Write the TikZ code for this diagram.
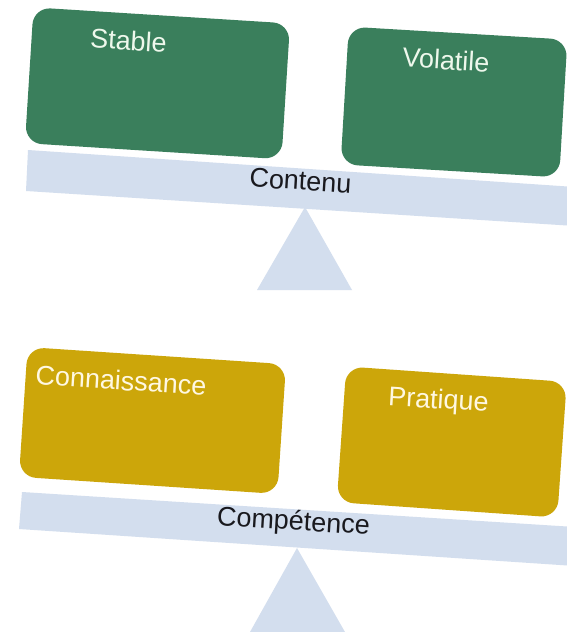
\documentclass[tikz,border=0pt]{standalone}
\usepackage{fontspec}
\setmainfont{Liberation Sans}
\definecolor{boxgreen}{RGB}{58,127,92}
\definecolor{boxgold}{RGB}{204,166,10}
\definecolor{beamblue}{RGB}{211,222,238}
\definecolor{lblgreen}{RGB}{238,248,236}
\definecolor{lblgold}{RGB}{255,248,226}
\definecolor{beamtext}{RGB}{25,25,30}
\begin{document}
\begin{tikzpicture}[x=1pt,y=-1pt,
  box/.style={fill=#1, draw=none, rounded corners=17pt, inner sep=0pt},
  lab/.style={text=#1, font=\fontsize{27}{32}\selectfont, inner sep=0pt, anchor=base, rotate=-3.5},
  beam/.style={fill=beamblue},
  pivot/.style={fill=beamblue}]
\useasboundingbox (0,0) rectangle (567,632);
\fill[white] (0,0) rectangle (567,632);
\clip (0,0) rectangle (567,632);

% ---------- top balance: Contenu ----------
\fill[pivot] (305,207) -- (352,290) -- (257,290) -- cycle;
\fill[beam] (28,150) -- (575,187) -- (575,226) -- (26,191) -- cycle;
\node[box=boxgreen, minimum width=257pt, minimum height=136pt, rotate=-3.6] (stable) at (157.5,83.3) {};
\node[box=boxgreen, minimum width=219pt, minimum height=138pt, rotate=-3.4] (volatile) at (454,102) {};
\node[lab=lblgreen] (tstable) at (128,50) {Stable};
\node[lab=lblgreen] (tvolatile) at (445.5,69.5) {Volatile};
\node[lab=beamtext] (tcontenu) at (300,190) {Contenu};

% ---------- bottom balance: Compétence ----------
\fill[pivot] (297,548) -- (345,632) -- (250,632) -- cycle;
\fill[beam] (22,492) -- (575,527) -- (575,566) -- (19,529) -- cycle;
\node[box=boxgold, minimum width=259pt, minimum height=130pt, rotate=-3.8] (connaissance) at (152.5,420.5) {};
\node[box=boxgold, minimum width=221pt, minimum height=136pt, rotate=-4] (pratique) at (451.75,442) {};
\node[lab=lblgold] (tconnaissance) at (120.5,390) {Connaissance};
\node[lab=lblgold] (tpratique) at (438,408.5) {Pratique};
\node[lab=beamtext] (tcompetence) at (293,530) {Compétence};
\end{tikzpicture}
\end{document}
